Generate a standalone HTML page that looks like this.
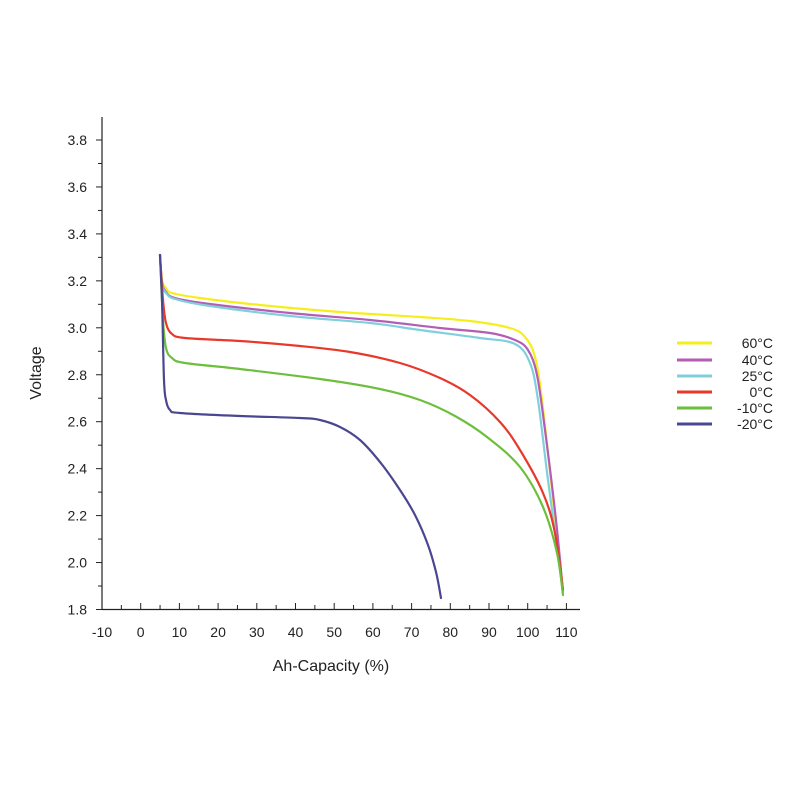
<!DOCTYPE html>
<html><head><meta charset="utf-8"><style>
html,body{margin:0;padding:0;background:#fff;}
svg{display:block;font-family:"Liberation Sans",Arial,sans-serif;}
</style></head><body>
<svg id="s" width="800" height="800" viewBox="0 0 800 800" xmlns="http://www.w3.org/2000/svg">
<g id="axes" stroke="#222" stroke-width="1.2" fill="none">
<line x1="102" y1="117" x2="102" y2="610"/>
<line x1="102" y1="609.5" x2="580" y2="609.5"/>
</g>
<g id="ticks" stroke="#222" stroke-width="1"></g>
<g id="labels" font-size="14" fill="#222"></g>
<text x="41" y="373" font-size="16" fill="#222" text-anchor="middle" transform="rotate(-90 41 373)">Voltage</text>
<text x="331" y="671" font-size="16" fill="#222" text-anchor="middle">Ah-Capacity (%)</text>
<g id="curves" fill="none" stroke-width="2.2" stroke-linejoin="round" stroke-linecap="round"></g>
<g font-size="14" fill="#222" text-anchor="end">
<line x1="677" y1="343" x2="712" y2="343" stroke="#f5ee1c" stroke-width="3"/><text x="773" y="348">60°C</text>
<line x1="677" y1="360" x2="712" y2="360" stroke="#b45db4" stroke-width="3"/><text x="773" y="365">40°C</text>
<line x1="677" y1="376" x2="712" y2="376" stroke="#7fd0dc" stroke-width="3"/><text x="773" y="381">25°C</text>
<line x1="677" y1="392" x2="712" y2="392" stroke="#e8382a" stroke-width="3"/><text x="773" y="397">0°C</text>
<line x1="677" y1="408" x2="712" y2="408" stroke="#6cbf3c" stroke-width="3"/><text x="773" y="413">-10°C</text>
<line x1="677" y1="424" x2="712" y2="424" stroke="#4a4790" stroke-width="3"/><text x="773" y="429">-20°C</text>
</g>
</svg>
<script>
var NS="http://www.w3.org/2000/svg";
function X(v){return 102+(v+10)*3.87;}
function Y(v){return 609.5-(v-1.8)*234.75;}
function el(p,tag,a,txt){var e=document.createElementNS(NS,tag);for(var k in a)e.setAttribute(k,a[k]);if(txt!==undefined)e.textContent=txt;document.getElementById(p).appendChild(e);}
for(var v=-10;v<=110;v+=5){var x=X(v);el("ticks","line",{x1:x,y1:609.5,x2:x,y2:(v%10==0?603:605)});
 if(v%10==0)el("labels","text",{x:x,y:637,"text-anchor":"middle"},String(v));}
for(var i=0;i<=20;i++){var vv=1.8+i*0.1;var y=Y(vv);if(vv>3.89)break;el("ticks","line",{x1:102,y1:y,x2:(i%2==0?96:98),y2:y});
 if(i%2==0)el("labels","text",{x:87,y:y+5,"text-anchor":"end"},vv.toFixed(1));}
var D=[
["#f5ee1c",[[160,255],[162,280],[166,288],[172,293],[200,298],[260,305],[340,312],[420,317],[470,321],[510,328],[525,337],[535,357],[542,400],[552,490],[563,590]]],
["#b45db4",[[160,255],[162,282],[166,292],[175,298],[210,304],[290,313],[370,320],[440,328],[490,333],[515,340],[528,350],[537,375],[545,430],[556,520],[563,592]]],
["#7fd0dc",[[160,255],[162,284],[166,293],[175,299],[210,306],[290,316],[370,323],[420,330],[480,338],[515,344],[530,363],[538,400],[548,480],[563,592]]],
["#e8382a",[[160,255],[163,300],[166,323],[172,334],[185,338],[240,341],[300,346],[350,352],[400,363],[440,378],[470,395],[500,422],[520,450],[543,493],[555,533],[563,590]]],
["#6cbf3c",[[160,255],[163,320],[166,348],[172,358],[185,363],[240,369],[320,379],[380,389],[420,400],[455,416],[487,437],[520,467],[543,507],[557,553],[563,595]]],
["#4a4790",[[160,255],[162,300],[164,380],[166,400],[170,410],[180,413],[240,416],[300,418],[320,420],[340,427],[360,440],[380,462],[400,490],[415,515],[428,545],[436,572],[441,598]]]
];
D.forEach(function(c){var p=c[1];
 var d="M"+p[0][0]+","+p[0][1];
 for(var i=0;i<p.length-1;i++){var p0=p[Math.max(0,i-1)],p1=p[i],p2=p[i+1],p3=p[Math.min(p.length-1,i+2)];
  var c1x=p1[0]+(p2[0]-p0[0])/6,c1y=p1[1]+(p2[1]-p0[1])/6,c2x=p2[0]-(p3[0]-p1[0])/6,c2y=p2[1]-(p3[1]-p1[1])/6;
  d+=" C"+c1x.toFixed(1)+","+c1y.toFixed(1)+" "+c2x.toFixed(1)+","+c2y.toFixed(1)+" "+p2[0]+","+p2[1];}
 el("curves","path",{d:d,stroke:c[0]});});
</script>
</body></html>
